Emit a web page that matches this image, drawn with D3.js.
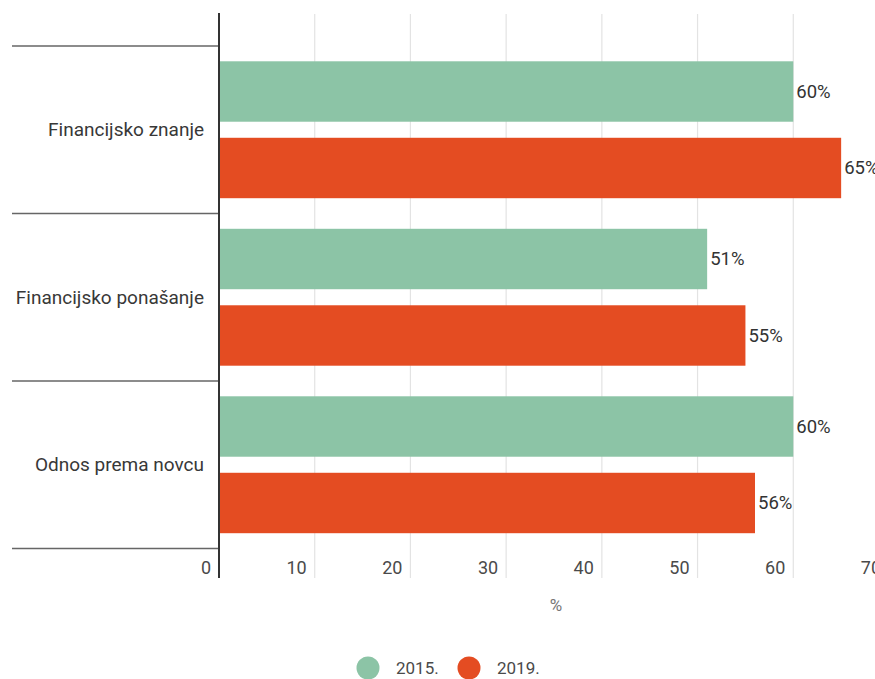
<!DOCTYPE html>
<html><head><meta charset="utf-8">
<script src="https://cdn.jsdelivr.net/npm/d3@7"></script>
<style>body{margin:0;background:#fff;} text{font-family:Roboto,"Noto Sans",sans-serif;font-weight:400;}</style>
</head><body>
<svg id="c" width="875" height="679"></svg>
<script>
const categories = ["Financijsko znanje", "Financijsko ponašanje", "Odnos prema novcu"];
const seriesNames = ["2015.", "2019."];
const values2015 = [60, 51, 60];
const values2019 = [65, 55, 56];
const xTicks = [0, 10, 20, 30, 40, 50, 60, 70];
const colors = ["#8cc4a6", "#e44c22"];

const svg = d3.select("#c");
const x = d3.scaleLinear().domain([0, 70]).range([219, 889]);
const y = d3.scaleBand().domain(categories).range([46, 548.5]).padding(0);
const ys = d3.scaleBand().domain(seriesNames).range([0, y.bandwidth()]).paddingInner(0.21).paddingOuter(0.2);

// gridlines
svg.append("g").selectAll("line").data(xTicks.slice(1)).join("line")
  .attr("x1", d => x(d)).attr("x2", d => x(d))
  .attr("y1", 14).attr("y2", 578)
  .attr("stroke", "#e3e3e3").attr("stroke-width", 1.2);

// tick labels
svg.append("g").selectAll("text").data(xTicks).join("text")
  .attr("x", d => x(d) - 8).attr("y", 574)
  .attr("text-anchor", "end").attr("font-size", 18).attr("fill", "#4a4a4a")
  .text(d => d);

// axis title
svg.append("text").attr("x", 556).attr("y", 611).attr("text-anchor", "middle")
  .attr("font-size", 17).attr("fill", "#777").text("%");

// category separators
const bounds = categories.map(c => y(c)).concat([y(categories[categories.length-1]) + y.bandwidth()]);
svg.append("g").selectAll("line").data(bounds).join("line")
  .attr("x1", 12).attr("x2", 219).attr("y1", d => d).attr("y2", d => d)
  .attr("stroke", "#666").attr("stroke-width", 1.5);

// bars
const rows = [];
categories.forEach((c, i) => {
  rows.push({cat: c, s: seriesNames[0], v: values2015[i], col: colors[0]});
  rows.push({cat: c, s: seriesNames[1], v: values2019[i], col: colors[1]});
});
svg.append("g").selectAll("rect").data(rows).join("rect")
  .attr("x", x(0)).attr("y", d => y(d.cat) + ys(d.s))
  .attr("width", d => x(d.v) - x(0)).attr("height", ys.bandwidth())
  .attr("fill", d => d.col);

svg.append("g").selectAll("text").data(rows).join("text")
  .attr("x", d => x(d.v) + 3).attr("y", d => y(d.cat) + ys(d.s) + ys.bandwidth()/2)
  .attr("dy", "0.35em").attr("font-size", 18.5).attr("fill", "#333")
  .text(d => d.v + "%");

// category labels
svg.append("g").selectAll("text").data(categories).join("text")
  .attr("x", 204).attr("y", d => y(d) + y.bandwidth()/2)
  .attr("dy", "0.35em").attr("text-anchor", "end").attr("font-size", 19).attr("fill", "#383838")
  .text(d => d);

// vertical axis line
svg.append("line").attr("x1", 219).attr("x2", 219).attr("y1", 13).attr("y2", 578)
  .attr("stroke", "#333").attr("stroke-width", 2);

// legend
const leg = svg.append("g");
const legX = [368, 469];
seriesNames.forEach((s, i) => {
  leg.append("circle").attr("cx", legX[i]).attr("cy", 668).attr("r", 11.5).attr("fill", colors[i]);
  leg.append("text").attr("x", legX[i] + 28).attr("y", 668).attr("dy", "0.35em")
    .attr("font-size", 17).attr("fill", "#4a4a4a").text(s);
});
</script>
</body></html>
